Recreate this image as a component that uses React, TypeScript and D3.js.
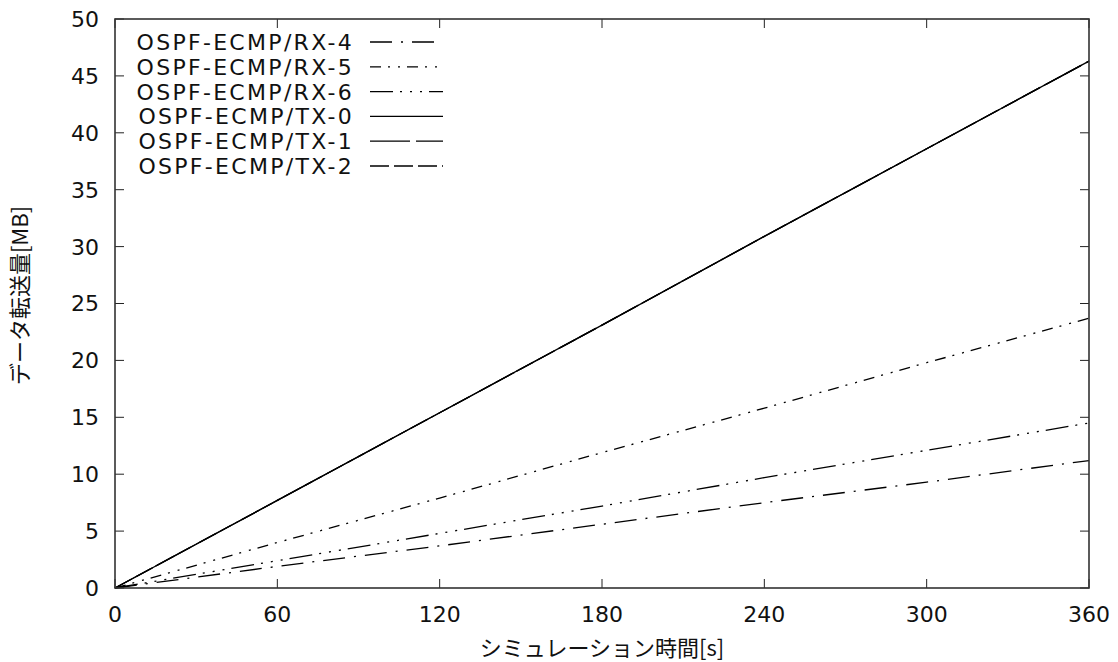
import React from 'react';
import * as d3 from 'd3';

// simulation time [s]
const times = [0, 60, 120, 180, 240, 300, 360];

// transferred data [MB] per series, read at each 60 s
const rx4 = [0, 1.9, 3.7, 5.6, 7.5, 9.3, 11.2];
const rx5 = [0, 4.0, 7.9, 11.9, 15.8, 19.8, 23.7];
const rx6 = [0, 2.4, 4.8, 7.2, 9.7, 12.1, 14.5];
const tx0 = [0, 7.7, 15.4, 23.1, 30.9, 38.6, 46.3];
const tx1 = [0, 7.7, 15.4, 23.1, 30.9, 38.6, 46.3];
const tx2 = [0, 7.7, 15.4, 23.1, 30.9, 38.6, 46.3];

const seriesNames = [
  'OSPF-ECMP/RX-4',
  'OSPF-ECMP/RX-5',
  'OSPF-ECMP/RX-6',
  'OSPF-ECMP/TX-0',
  'OSPF-ECMP/TX-1',
  'OSPF-ECMP/TX-2',
];
const seriesValues = [rx4, rx5, rx6, tx0, tx1, tx2];
const dashes = [
  '22 9 2 9',
  '11 7 2 8 2 7',
  '23 7 2 8 2 8 2 7',
  '',
  '40 6',
  '19 5',
];

const xTicks = [0, 60, 120, 180, 240, 300, 360];
const yTicks = [0, 5, 10, 15, 20, 25, 30, 35, 40, 45, 50];

const W = 1118;
const H = 662;
const margin = { top: 19, left: 115, right: 29, bottom: 74 };
const latin = '"DejaVu Sans", "Noto Sans CJK JP", sans-serif';
const cjk = '"Noto Sans CJK JP", sans-serif';

export default function App() {
  const iw = W - margin.left - margin.right;
  const ih = H - margin.top - margin.bottom;

  const x = d3.scaleLinear().domain([0, 360]).range([0, iw]);
  const y = d3.scaleLinear().domain([0, 50]).range([ih, 0]);

  const line = d3
    .line<number>()
    .x((_, i) => x(times[i]))
    .y((d) => y(d));

  const tickLen = 9;

  return (
    <svg
      width={W}
      height={H}
      style={{ position: 'absolute', left: 0, top: 0, background: '#fff' }}
      fontFamily={latin}
    >
      <g transform={`translate(${margin.left},${margin.top})`}>
        {/* series */}
        {seriesValues.map((vals, i) => (
          <path
            key={seriesNames[i]}
            d={line(vals) || ''}
            fill="none"
            stroke="#000"
            strokeWidth={1.3}
            strokeDasharray={dashes[i] || undefined}
          />
        ))}

        {/* ticks */}
        {xTicks.map((t) => (
          <g key={'x' + t}>
            <line x1={x(t)} x2={x(t)} y1={ih} y2={ih - tickLen} stroke="#222" strokeWidth={1} />
            <line x1={x(t)} x2={x(t)} y1={0} y2={tickLen} stroke="#222" strokeWidth={1} />
            <text x={x(t)} y={ih + 34} fontSize={22} textAnchor="middle" fill="#111">
              {t}
            </text>
          </g>
        ))}
        {yTicks.map((t) => (
          <g key={'y' + t}>
            <line x1={0} x2={tickLen} y1={y(t)} y2={y(t)} stroke="#222" strokeWidth={1} />
            <line x1={iw} x2={iw - tickLen} y1={y(t)} y2={y(t)} stroke="#222" strokeWidth={1} />
            <text x={-16} y={y(t)} dy="0.36em" fontSize={22} textAnchor="end" fill="#111">
              {t}
            </text>
          </g>
        ))}

        {/* frame */}
        <rect x={0} y={0} width={iw} height={ih} fill="none" stroke="#333" strokeWidth={1.6} />

        {/* legend */}
        {seriesNames.map((name, i) => {
          const ly = 23 + i * 24.8;
          return (
            <g key={'lg' + name}>
              <text
                x={239}
                y={ly}
                dy="0.36em"
                fontSize={22}
                letterSpacing={2.3}
                textAnchor="end"
                fill="#111"
              >
                {name}
              </text>
              <line
                x1={255}
                x2={328}
                y1={ly}
                y2={ly}
                stroke="#000"
                strokeWidth={1.3}
                strokeDasharray={dashes[i] || undefined}
              />
            </g>
          );
        })}
      </g>

      {/* axis titles */}
      <text
        x={margin.left + iw / 2}
        y={656}
        fontSize={22}
        fontFamily={cjk}
        textAnchor="middle"
        fill="#111"
      >
        シミュレーション時間[s]
      </text>
      <text
        transform={`translate(28,${margin.top + ih / 2 - 8}) rotate(-90)`}
        fontSize={22}
        fontFamily={cjk}
        textAnchor="middle"
        fill="#111"
      >
        データ転送量[MB]
      </text>
    </svg>
  );
}
